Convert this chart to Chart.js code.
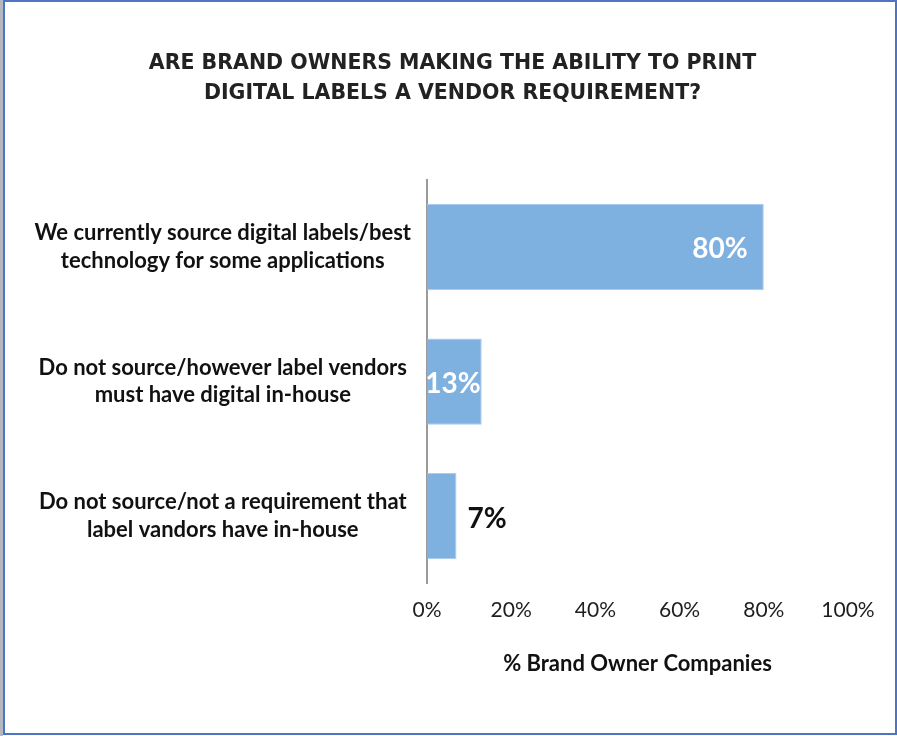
<!DOCTYPE html>
<html>
<head>
<meta charset="utf-8">
<title>Digital labels vendor requirement</title>
<script src="https://cdn.jsdelivr.net/npm/chart.js@4.4.1/dist/chart.umd.min.js"></script>
<style>
  html, body { margin: 0; padding: 0; background: #fff; }
  #frame {
    position: absolute; left: 0; top: 0; width: 897px; height: 736px;
    box-sizing: border-box;
    border-left: 3px solid #b4b8c0;
  }
  #frame div {
    position: absolute; left: 0; top: 0; right: 0; bottom: 1px;
    border: 2px solid #4f74c2;
  }
  #barChart { position: absolute; left: 0; top: 0; }
</style>
</head>
<body>
<div id="frame"><div></div></div>
<canvas id="barChart" width="897" height="736"></canvas>
<script>
const categories = [
  ['We currently source digital labels/best', 'technology for some applications'],
  ['Do not source/however label vendors', 'must have digital in-house'],
  ['Do not source/not a requirement that', 'label vandors have in-house']
];
const shares = [80, 13, 7];
const tickValues = [0, 20, 40, 60, 80, 100];

const labelFont = 'Lato';
const insideMin = 10; // bars wider than this get the label inside, in white

// writes the percentage at the end of each bar
const valueLabels = {
  id: 'valueLabels',
  afterDatasetsDraw(chart) {
    let ctx = chart.ctx,
        meta = chart.getDatasetMeta(0);
    ctx.save();
    ctx.font = 'bold 28px ' + labelFont;
    ctx.textBaseline = 'middle';
    meta.data.forEach(function(bar, i) {
      let v = chart.data.datasets[0].data[i],
          txt = v + '%';
      if (v >= insideMin) {
        ctx.fillStyle = '#ffffff';
        ctx.textAlign = 'right';
        ctx.fillText(txt, bar.x - (v > 50 ? 16 : 1), bar.y + 2);
      } else {
        ctx.fillStyle = '#111111';
        ctx.textAlign = 'left';
        ctx.fillText(txt, bar.x + 11, bar.y + 3);
      }
    });
    ctx.restore();
  }
};

function drawBarChart() {
  let ctxBar = document.getElementById('barChart').getContext('2d');
  let configBar = {
    type: 'bar',
    data: {
      labels: categories,
      datasets: [{
        data: shares,
        backgroundColor: '#7eb0e0',
        borderColor: '#a9cbee',
        borderWidth: 1,
        borderSkipped: 'start',
        barPercentage: 0.64,
        categoryPercentage: 1
      }]
    },
    options: {
      indexAxis: 'y',
      responsive: false,
      animation: false,
      layout: { padding: { left: 8, right: 0, top: 0, bottom: 59 } },
      plugins: {
        legend: { display: false },
        tooltip: { enabled: false },
        title: {
          display: true,
          text: ['ARE BRAND OWNERS MAKING THE ABILITY TO PRINT',
                 'DIGITAL LABELS A VENDOR REQUIREMENT?'],
          color: '#222222',
          font: { family: 'DejaVu Sans', size: 20.5, weight: 'bold', lineHeight: 1.46 },
          padding: { top: 49, bottom: 71 }
        }
      },
      scales: {
        x: {
          min: 0,
          max: 100,
          afterBuildTicks: function(scale) {
            scale.ticks = tickValues.map(v => ({ value: v }));
          },
          grid: { display: false, drawTicks: false },
          border: { display: false },
          ticks: {
            color: '#1e1e1e',
            padding: 14,
            font: { family: labelFont, size: 21 },
            callback: v => v + '%'
          },
          title: {
            display: true,
            text: '% Brand Owner Companies',
            color: '#111111',
            font: { family: labelFont, size: 22, weight: 'bold' },
            padding: { top: 14, bottom: 0 }
          }
        },
        y: {
          afterFit: function(scale) { scale.width = 419; },
          grid: { display: false, drawTicks: false },
          border: { display: true, color: '#9a9a9a', width: 2 },
          ticks: {
            color: '#111111',
            crossAlign: 'center',
            padding: 16,
            font: { family: labelFont, size: 22, weight: 'bold', lineHeight: 1.25 }
          }
        },
        // empty strip on the right so the plot ends at 100% short of the edge
        yRight: {
          type: 'category',
          position: 'right',
          afterFit: function(scale) { scale.width = 49; },
          grid: { display: false, drawTicks: false },
          border: { display: false },
          ticks: { display: false }
        }
      }
    },
    plugins: [valueLabels]
  };
  barChart = new Chart(ctxBar, configBar);
}

drawBarChart();
</script>
</body>
</html>
